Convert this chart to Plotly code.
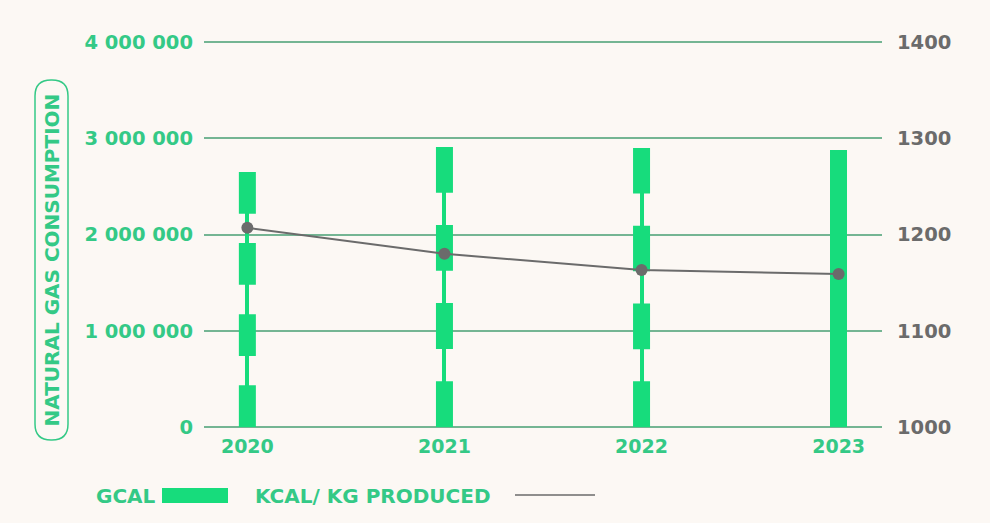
import plotly.graph_objects as go

# Data
years = ["2020", "2021", "2022", "2023"]
gcal = [2650000, 2910000, 2900000, 2880000]
kcal_per_kg = [1207, 1180, 1163, 1159]
segmented = [True, True, True, False]

left_ticks = [0, 1000000, 2000000, 3000000, 4000000]
left_labels = ["0", "1 000 000", "2 000 000", "3 000 000", "4 000 000"]
right_ticks = [1000, 1100, 1200, 1300, 1400]
right_labels = ["1000", "1100", "1200", "1300", "1400"]

# Style
BG = "#fcf8f4"
GREEN = "#17dc7c"
GREEN_TEXT = "#34c986"
GRAY = "#6b6b6b"
GRID = "#74b593"
FONT = "DejaVu Sans"

W, H = 990, 523
M_L, M_R = 204, 108
Y_TOP_PX, Y_BOT_PX = 42, 427      # pixel rows of the 4M / 0 gridlines
PAD = 2                            # keeps the end gridlines inside the plot
M_T = Y_TOP_PX - PAD
M_B = H - Y_BOT_PX - PAD
GRID_H = Y_BOT_PX - Y_TOP_PX
Y_MAX = 4000000
px_per_unit = GRID_H / Y_MAX
y_pad = PAD / px_per_unit
y2_pad = PAD * 400 / GRID_H

fig = go.Figure()

# Bars: thin stem for segmented years, full bar otherwise
widths = [0.02 if s else 0.086 for s in segmented]
fig.add_trace(go.Bar(
    x=years, y=gcal, width=widths, marker=dict(color=GREEN, line=dict(width=0)),
    name="GCAL", showlegend=False, hoverinfo="y",
))

# Broken thick segments along the stems: 4 dashes, 3 gaps per bar
for yr, val, seg in zip(years, gcal, segmented):
    if not seg:
        continue
    h = val * px_per_unit
    dash_len = h * 1.42 / (4 * 1.42 + 3)
    gap_len = dash_len / 1.42
    fig.add_trace(go.Scatter(
        x=[yr, yr], y=[0, val], mode="lines",
        line=dict(color=GREEN, width=17, dash=f"{dash_len:.2f}px,{gap_len:.2f}px"),
        showlegend=False, hoverinfo="skip",
    ))

# Energy intensity line on the secondary axis
fig.add_trace(go.Scatter(
    x=years, y=kcal_per_kg, yaxis="y2", mode="lines+markers",
    line=dict(color=GRAY, width=2),
    marker=dict(color=GRAY, size=12),
    name="KCAL/ KG PRODUCED", showlegend=False,
))

x_tick_font = dict(family=FONT, size=19, color=GREEN_TEXT, weight="bold")
y_tick_font = dict(family=FONT, size=19.5, color=GREEN_TEXT, weight="bold")
y2_tick_font = dict(family=FONT, size=19.5, color=GRAY, weight="bold")

fig.update_layout(
    width=W, height=H,
    margin=dict(l=M_L, r=M_R, t=M_T, b=M_B),
    paper_bgcolor=BG, plot_bgcolor=BG,
    xaxis=dict(
        type="category", range=[-0.22, 3.22],
        showgrid=False, zeroline=False, showline=False,
        tickfont=x_tick_font, ticks="", ticklabelstandoff=4,
    ),
    yaxis=dict(
        range=[-y_pad, Y_MAX + y_pad], tickvals=left_ticks, ticktext=left_labels,
        showgrid=True, gridcolor=GRID, gridwidth=1.5,
        zeroline=False, showline=False, ticks="",
        tickfont=y_tick_font, ticklabelstandoff=10,
    ),
    yaxis2=dict(
        range=[1000 - y2_pad, 1400 + y2_pad], tickvals=right_ticks, ticktext=right_labels,
        overlaying="y", side="right", showgrid=False,
        zeroline=False, showline=False, ticks="",
        tickfont=y2_tick_font, ticklabelstandoff=14,
    ),
    showlegend=False,
    bargap=0,
)

PW = W - M_L - M_R
PH = H - M_T - M_B


def px_x(p):
    return (p - M_L) / PW


def px_y(p):
    return (H - M_B - p) / PH


# Rounded frame around the axis title
x0, x1 = px_x(35), px_x(68)
y0, y1 = px_y(440), px_y(80)
rx, ry = 16 / PW, 16 / PH
path = (
    f"M {x0+rx},{y0} L {x1-rx},{y0} Q {x1},{y0} {x1},{y0+ry} "
    f"L {x1},{y1-ry} Q {x1},{y1} {x1-rx},{y1} L {x0+rx},{y1} "
    f"Q {x0},{y1} {x0},{y1-ry} L {x0},{y0+ry} Q {x0},{y0} {x0+rx},{y0} Z"
)
fig.add_shape(type="path", path=path, xref="paper", yref="paper",
              line=dict(color=GREEN_TEXT, width=1.5), fillcolor="rgba(0,0,0,0)")
fig.add_annotation(
    text="NATURAL GAS CONSUMPTION", textangle=-90,
    x=px_x(51.5), y=px_y(260), xref="paper", yref="paper",
    xanchor="center", yanchor="middle", showarrow=False,
    font=dict(family=FONT, size=20, color=GREEN_TEXT, weight="bold"),
)

# Legend row
legend_font = dict(family=FONT, size=20, color=GREEN_TEXT, weight="bold")
fig.add_annotation(text="GCAL", x=px_x(94), y=px_y(496), xref="paper", yref="paper",
                   xanchor="left", yanchor="middle", showarrow=False, font=legend_font)
fig.add_shape(type="rect", xref="paper", yref="paper",
              x0=px_x(162), x1=px_x(228), y0=px_y(503), y1=px_y(488),
              fillcolor=GREEN, line=dict(width=0))
fig.add_annotation(text="KCAL/ KG PRODUCED", x=px_x(253), y=px_y(496), xref="paper", yref="paper",
                   xanchor="left", yanchor="middle", showarrow=False, font=legend_font)
fig.add_shape(type="line", xref="paper", yref="paper",
              x0=px_x(515), x1=px_x(595), y0=px_y(495), y1=px_y(495),
              line=dict(color=GRAY, width=1.5))

fig.write_html("out.html")
